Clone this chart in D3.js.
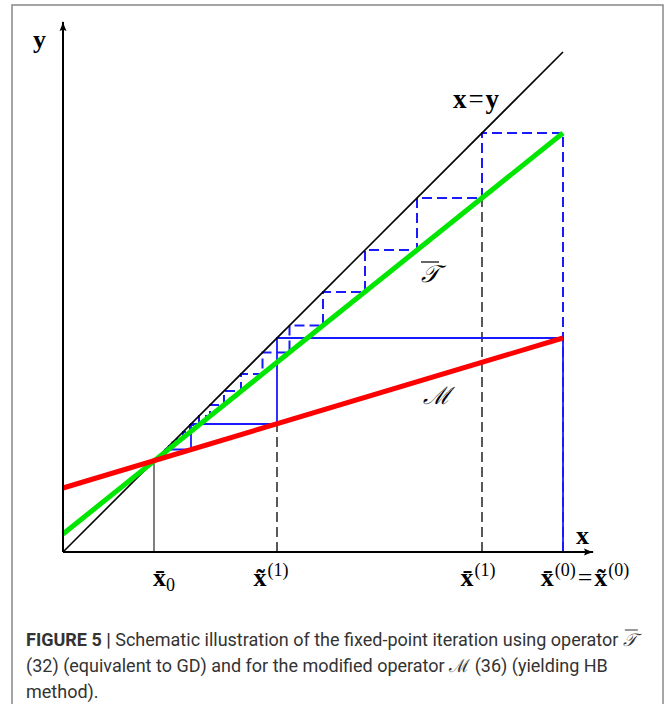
<!DOCTYPE html>
<html>
<head>
<meta charset="utf-8">
<script src="https://cdn.jsdelivr.net/npm/d3@7"></script>
<style>
  body { margin: 0; background: #fff; }
  svg text { fill: #000; }
</style>
</head>
<body>
<div id="chart"></div>
<script>
// values (data units, x = y has slope 1)
var axisMax = 10.6;
var fixedPoint = 1.82;
var greenEnds = [[0, 0.36], [10, 8.38]];   // operator T
var redEnds = [[0, 1.28], [10, 4.28]];     // operator M
var tIterates = [10, 8.38, 7.08, 6.04, 5.2, 4.53, 3.99, 3.56, 3.22, 2.94, 2.72, 2.54, 2.4, 2.28, 2.19, 2.12, 2.06];
var mIterates = [10, 4.28, 2.56, 2.05, 1.9, 1.85];
var guideLines = [[4.28, 2.56], [8.38, 7.08]];   // dashed black: x, height
var tickValues = [fixedPoint, 4.28, 8.38, 10];

var svg = d3.select("#chart").append("svg")
    .attr("width", 672).attr("height", 704);

var x = d3.scaleLinear().domain([0, 10]).range([63, 563]);
var y = d3.scaleLinear().domain([0, 10]).range([552, 52]);

// frame
svg.append("rect").attr("x", 12).attr("y", 5).attr("width", 651).attr("height", 720)
    .attr("fill", "none").attr("stroke", "#888").attr("stroke-width", 1.5);

svg.append("defs").append("marker")
    .attr("id", "arrow").attr("viewBox", "0 0 10 10").attr("refX", 9).attr("refY", 5)
    .attr("markerWidth", 10).attr("markerHeight", 10).attr("markerUnits", "userSpaceOnUse")
    .attr("orient", "auto")
  .append("path").attr("d", "M0,1.5 Q5,4 10,5 Q5,6 0,8.5 Q2,5 0,1.5Z").attr("fill", "#000");

var line = d3.line().x(function(d){ return x(d[0]); }).y(function(d){ return y(d[1]); });

// cobweb of T (dashed) -- drawn first
var tPath = [[tIterates[0], 0]];
tIterates.forEach(function(v, i){
  if (i + 1 < tIterates.length) {
    tPath.push([v, tIterates[i+1]]);
    tPath.push([tIterates[i+1], tIterates[i+1]]);
  }
});
svg.append("path").attr("d", line(tPath)).attr("fill", "none")
    .attr("stroke", "#1a1aff").attr("stroke-width", 2).attr("stroke-dasharray", "10,5");

// guide lines
svg.selectAll(".guide").data(guideLines).enter().append("line")
    .attr("x1", function(d){ return x(d[0]); }).attr("x2", function(d){ return x(d[0]); })
    .attr("y1", y(0)).attr("y2", function(d){ return y(d[1]); })
    .attr("stroke", "#222").attr("stroke-width", 1.5).attr("stroke-dasharray", "10,5");
svg.append("line").attr("x1", x(fixedPoint)).attr("x2", x(fixedPoint))
    .attr("y1", y(0)).attr("y2", y(fixedPoint)).attr("stroke", "#000").attr("stroke-width", 1);

// cobweb of M (solid)
var mPath = [[mIterates[0], 0]];
mIterates.forEach(function(v, i){
  if (i + 1 < mIterates.length) {
    mPath.push([v, mIterates[i+1]]);
    mPath.push([mIterates[i+1], mIterates[i+1]]);
  }
});
svg.append("path").attr("d", line(mPath)).attr("fill", "none")
    .attr("stroke", "#1a1aff").attr("stroke-width", 1.8);

// x = y
svg.append("path").attr("d", line([[0, 0], [10, 10]])).attr("stroke", "#000").attr("stroke-width", 1.6);
// operator lines
svg.append("path").attr("d", line(greenEnds)).attr("stroke", "#00e600").attr("stroke-width", 5);
svg.append("path").attr("d", line(redEnds)).attr("stroke", "#ff0000").attr("stroke-width", 5);

// axes
svg.append("line").attr("x1", x(0)).attr("y1", y(0)).attr("x2", x(axisMax)).attr("y2", y(0))
    .attr("stroke", "#000").attr("stroke-width", 2).attr("marker-end", "url(#arrow)");
svg.append("line").attr("x1", x(0)).attr("y1", y(0)).attr("x2", x(0)).attr("y2", y(axisMax))
    .attr("stroke", "#000").attr("stroke-width", 2).attr("marker-end", "url(#arrow)");

var serif = "'Liberation Serif', 'DejaVu Serif', serif";
function bold(t, px, py, anchor, size){
  return svg.append("text").attr("x", px).attr("y", py).attr("text-anchor", anchor || "start")
      .style("font-family", serif).style("font-size", (size || 25) + "px").style("font-weight", "bold").text(t);
}
bold("y", 33, 48, "start", 26);
bold("x", 576, 544, "start", 26);
var xy = svg.append("text").attr("x", 476).attr("y", 108).attr("text-anchor", "middle")
    .style("font-family", serif).style("font-size", "27px").style("font-weight", "bold");
xy.append("tspan").text("x");
xy.append("tspan").attr("dx", 2).style("font-weight", "normal").text("=");
xy.append("tspan").attr("dx", 2).text("y");

// operator labels
svg.append("text").attr("x", 421).attr("y", 282).style("font-family", serif).style("font-style", "italic")
    .style("font-size", "24px").text("𝒯");
svg.append("line").attr("x1", 421).attr("x2", 439).attr("y1", 262).attr("y2", 262).attr("stroke", "#000").attr("stroke-width", 1.2);
svg.append("text").attr("x", 423).attr("y", 404).style("font-family", serif).style("font-style", "italic")
    .style("font-size", "24px").text("ℳ");

// tick labels
function tickLabel(cx, parts){
  var t = svg.append("text").attr("x", cx).attr("y", 586).attr("text-anchor", "middle")
      .style("font-family", serif).style("font-size", "26px");
  parts.forEach(function(p){
    var s = t.append("tspan").text(p[0]);
    if (p[1] === "b") s.style("font-weight", "bold");
    if (p[1] === "sup") s.style("font-size", "18px").attr("dy", -10).attr("dx", 1);
    if (p[1] === "sub") s.style("font-size", "18px").attr("dy", 5);
    if (p[1] === "down") s.attr("dy", 10).attr("dx", 2);
    if (p[1] === "bd") s.style("font-weight", "bold").attr("dx", 2);
  });
}
tickLabel(x(tickValues[0]) + 10, [["x\u0304", "b"], ["0", "sub"]]);
tickLabel(x(tickValues[1]) - 6, [["x\u0303", "b"], ["(1)", "sup"]]);
tickLabel(x(tickValues[2]) - 4, [["x\u0304", "b"], ["(1)", "sup"]]);
tickLabel(x(tickValues[3]) + 22, [["x\u0304", "b"], ["(0)", "sup"], ["=", "down"], ["x\u0303", "bd"], ["(0)", "sup"]]);

// caption
var cap = svg.append("g").style("font-family", "'Liberation Sans Narrow', 'Roboto', sans-serif")
    .style("font-size", "18px");
var l1 = cap.append("text").attr("x", 26).attr("y", 646).style("fill", "#333");
l1.append("tspan").style("font-weight", "bold").text("FIGURE 5 |");
l1.append("tspan").text(" Schematic illustration of the fixed-point iteration using operator ");
var tSym = l1.append("tspan").style("font-family", serif).style("font-style", "italic").text("𝒯");
var l1Len = l1.node().getComputedTextLength();
var symLen = tSym.node().getComputedTextLength();
svg.append("line").attr("x1", 26 + l1Len - symLen + 2).attr("x2", 26 + l1Len + 1)
    .attr("y1", 630).attr("y2", 630).attr("stroke", "#333").attr("stroke-width", 1);
cap.append("text").attr("x", 26).attr("y", 672).style("fill", "#333")
    .text("(32) (equivalent to GD) and for the modified operator ℳ (36) (yielding HB");
cap.append("text").attr("x", 26).attr("y", 698).style("fill", "#333").text("method).");
</script>
</body>
</html>
